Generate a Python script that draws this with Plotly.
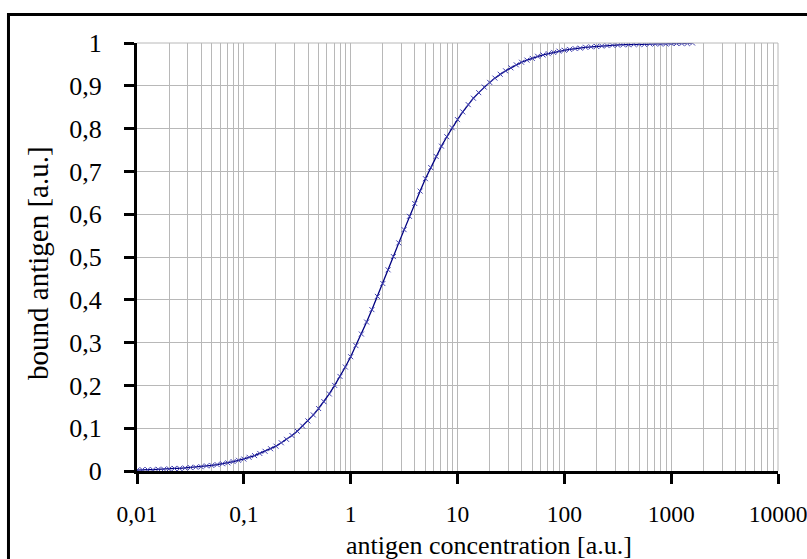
import plotly.graph_objects as go

# antigen concentration [a.u.]
concentration = [
    0.01, 0.0112, 0.0126, 0.0141, 0.0158, 0.0178, 0.02, 0.0224, 0.0251, 0.0282,
    0.0316, 0.0355, 0.0398, 0.0447, 0.0501, 0.0562, 0.0631, 0.0708, 0.0794, 0.0891,
    0.1, 0.112, 0.126, 0.141, 0.158, 0.178, 0.2, 0.224, 0.251, 0.282,
    0.316, 0.355, 0.398, 0.447, 0.501, 0.562, 0.631, 0.708, 0.794, 0.891,
    1.0, 1.12, 1.26, 1.41, 1.58, 1.78, 2.0, 2.24, 2.51, 2.82,
    3.16, 3.55, 3.98, 4.47, 5.01, 5.62, 6.31, 7.08, 7.94, 8.91,
    10.0, 11.2, 12.6, 14.1, 15.8, 17.8, 20.0, 22.4, 25.1, 28.2,
    31.6, 35.5, 39.8, 44.7, 50.1, 56.2, 63.1, 70.8, 79.4, 89.1,
    100, 112, 126, 141, 158, 178, 200, 224, 251, 282,
    316, 355, 398, 447, 501, 562, 631, 708, 794, 891,
    1000, 1122, 1259, 1413, 1585,
]

# bound antigen [a.u.]
bound = [
    0.002, 0.003, 0.003, 0.003, 0.004, 0.004, 0.005, 0.006, 0.006, 0.007,
    0.008, 0.009, 0.010, 0.012, 0.013, 0.015, 0.017, 0.019, 0.022, 0.025,
    0.028, 0.032, 0.036, 0.041, 0.046, 0.052, 0.058, 0.066, 0.074, 0.083,
    0.093, 0.105, 0.117, 0.131, 0.146, 0.162, 0.180, 0.200, 0.221, 0.243,
    0.267, 0.293, 0.320, 0.348, 0.377, 0.408, 0.438, 0.470, 0.501, 0.533,
    0.564, 0.595, 0.625, 0.654, 0.683, 0.709, 0.735, 0.759, 0.781, 0.802,
    0.821, 0.839, 0.856, 0.871, 0.884, 0.897, 0.908, 0.918, 0.927, 0.935,
    0.942, 0.949, 0.955, 0.960, 0.964, 0.969, 0.972, 0.975, 0.978, 0.981,
    0.983, 0.985, 0.987, 0.988, 0.990, 0.991, 0.992, 0.993, 0.994, 0.995,
    0.995, 0.996, 0.996, 0.997, 0.997, 0.997, 0.998, 0.998, 0.998, 0.998,
    0.999, 0.999, 0.999, 0.999, 1.000,
]

x_tick_vals = [0.01, 0.1, 1, 10, 100, 1000, 10000]
x_tick_text = ["0,01", "0,1", "1", "10", "100", "1000", "10000"]
y_tick_vals = [0, 0.1, 0.2, 0.3, 0.4, 0.5, 0.6, 0.7, 0.8, 0.9, 1]
y_tick_text = ["0", "0,1", "0,2", "0,3", "0,4", "0,5", "0,6", "0,7", "0,8", "0,9", "1"]

FONT = "Liberation Serif, Times New Roman, serif"
GRID = "#b8b8b8"

fig = go.Figure()
fig.add_trace(go.Scatter(
    x=concentration, y=bound, mode="lines+markers",
    line=dict(color="#000080", width=1.3),
    marker=dict(symbol="x-thin", size=5, line=dict(color="#4040b0", width=1)),
    showlegend=False, hoverinfo="x+y",
))

fig.update_layout(
    width=807, height=559,
    margin=dict(l=137, r=29, t=43, b=88, pad=0, autoexpand=False),
    paper_bgcolor="white", plot_bgcolor="white",
    font=dict(family=FONT, size=25, color="black"),
    xaxis=dict(
        type="log", range=[-2, 4],
        tickmode="array", tickvals=x_tick_vals, ticktext=x_tick_text,
        ticks="outside", ticklen=10, tickwidth=2.5, tickcolor="black",
        showline=True, linecolor="black", linewidth=3,
        showgrid=True, gridcolor=GRID, gridwidth=1,
        minor=dict(dtick="D1", showgrid=True, gridcolor=GRID, gridwidth=1, ticks=""),
        ticklabelstandoff=10,
        ticklabeloverflow="allow",
        automargin=False,
        zeroline=False,
        tickfont=dict(family=FONT, size=23.5),
    ),
    yaxis=dict(
        range=[0, 1],
        tickmode="array", tickvals=y_tick_vals, ticktext=y_tick_text,
        ticks="outside", ticklen=10, tickwidth=2.5, tickcolor="black",
        showline=True, linecolor="black", linewidth=3,
        showgrid=True, gridcolor=GRID, gridwidth=1,
        ticklabelstandoff=17,
        automargin=False,
        zeroline=False,
        tickfont=dict(family=FONT, size=26),
    ),
    shapes=[
        dict(type="rect", xref="paper", yref="paper",
             x0=-0.2005, x1=1.07, y0=-0.24, y1=1.0666,
             line=dict(color="black", width=3), fillcolor="rgba(0,0,0,0)", layer="above"),
        dict(type="line", xref="paper", yref="paper", x0=0, x1=1, y0=1, y1=1,
             line=dict(color=GRID, width=1)),
        dict(type="line", xref="paper", yref="paper", x0=1, x1=1, y0=0, y1=1,
             line=dict(color=GRID, width=1)),
    ],
    annotations=[
        dict(text="antigen concentration [a.u.]", xref="paper", yref="paper",
             x=0.5484, y=-0.175, xanchor="center", yanchor="middle", showarrow=False,
             font=dict(family=FONT, size=26, color="black")),
        dict(text="bound antigen [a.u.]", xref="paper", yref="paper",
             x=-0.1545, y=0.486, xanchor="center", yanchor="middle", showarrow=False,
             textangle=-90, font=dict(family=FONT, size=29, color="black")),
    ],
)

fig.write_html("out.html")
